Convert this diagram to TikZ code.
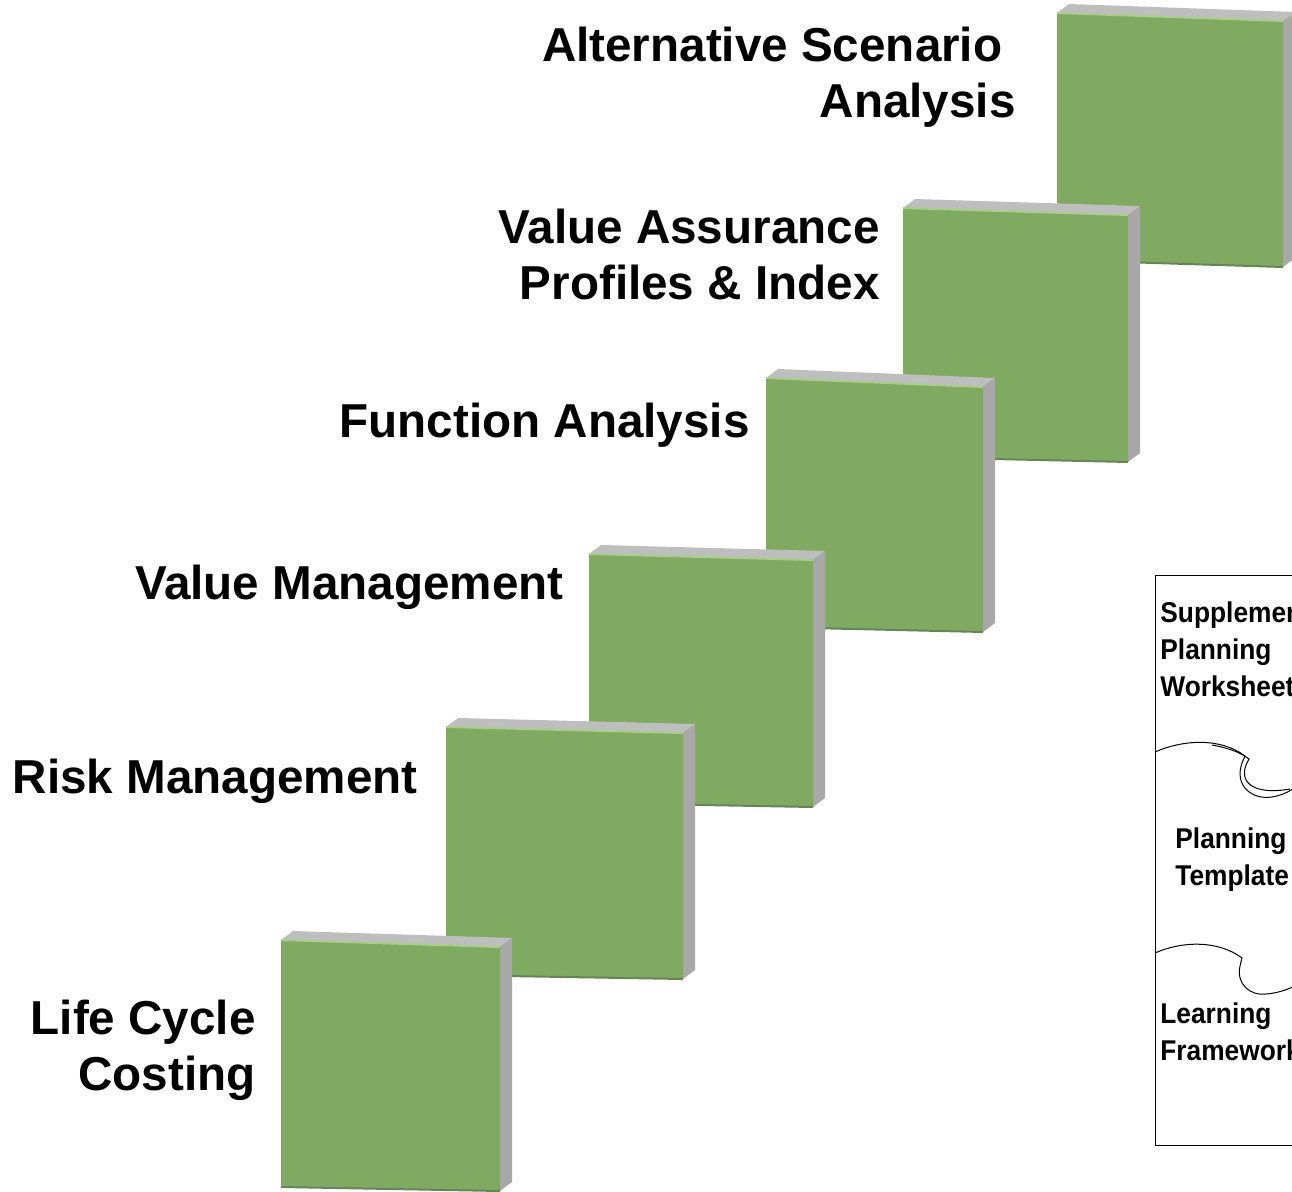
\documentclass[tikz,border=0pt]{standalone}
\usepackage{fontspec}
\setmainfont{Liberation Sans}
\newfontfamily\narrowfont[FakeStretch=0.92]{Liberation Sans}
\usetikzlibrary{calc}
\definecolor{boxgreen}{RGB}{128,170,98}
\definecolor{topgray}{RGB}{190,190,190}
\definecolor{sidegray}{RGB}{168,168,168}
\definecolor{edgelight}{RGB}{170,205,142}
\definecolor{edgedark}{RGB}{102,132,86}

\begin{document}
\begin{tikzpicture}[x=0.5pt,y=-0.5pt,
	frontface/.style={fill=boxgreen},
	topface/.style={fill=topgray},
	sideface/.style={fill=sidegray},
	steplabel/.style={font=\bfseries\fontsize{23.8pt}{28pt}\selectfont,align=right,anchor=base east,inner sep=0pt},
	paneltext/.style={font=\narrowfont\bfseries\fontsize{14.3pt}{18.5pt}\selectfont,align=left,anchor=base west,inner sep=0pt},
	panelline/.style={draw=black,line width=0.5pt}]
\useasboundingbox (0,0) rectangle (1292,1192);
\clip (0,0) rectangle (1292,1192);
		% block 6
		\coordinate (A6) at (1057,13);
		\coordinate (B6) at (1283,21);
		\coordinate (C6) at (1283,267);
		\coordinate (D6) at (1057,260);
		\fill[topface] (A6) -- ++(12,-9) -- ($(B6)+(12,-9)$) -- (B6) -- cycle;
		\fill[sideface] (B6) -- ++(12,-9) -- ($(C6)+(12,-9)$) -- (C6) -- cycle;
		\fill[frontface] (A6) -- (B6) -- (C6) -- (D6) -- cycle;
		\draw[edgelight,line width=1pt] (A6) -- (B6);
		\draw[edgedark,line width=1pt] (D6) -- (C6);
		% block 5
		\coordinate (A5) at (903,208);
		\coordinate (B5) at (1128,215);
		\coordinate (C5) at (1128,462);
		\coordinate (D5) at (903,457);
		\fill[topface] (A5) -- ++(12,-9) -- ($(B5)+(12,-9)$) -- (B5) -- cycle;
		\fill[sideface] (B5) -- ++(12,-9) -- ($(C5)+(12,-9)$) -- (C5) -- cycle;
		\fill[frontface] (A5) -- (B5) -- (C5) -- (D5) -- cycle;
		\draw[edgelight,line width=1pt] (A5) -- (B5);
		\draw[edgedark,line width=1pt] (D5) -- (C5);
		% block 4
		\coordinate (A4) at (766,378);
		\coordinate (B4) at (983,387);
		\coordinate (C4) at (983,632);
		\coordinate (D4) at (766,627);
		\fill[topface] (A4) -- ++(12,-9) -- ($(B4)+(12,-9)$) -- (B4) -- cycle;
		\fill[sideface] (B4) -- ++(12,-9) -- ($(C4)+(12,-9)$) -- (C4) -- cycle;
		\fill[frontface] (A4) -- (B4) -- (C4) -- (D4) -- cycle;
		\draw[edgelight,line width=1pt] (A4) -- (B4);
		\draw[edgedark,line width=1pt] (D4) -- (C4);
		% block 3
		\coordinate (A3) at (589,554);
		\coordinate (B3) at (813,560);
		\coordinate (C3) at (813,807);
		\coordinate (D3) at (589,803);
		\fill[topface] (A3) -- ++(12,-9) -- ($(B3)+(12,-9)$) -- (B3) -- cycle;
		\fill[sideface] (B3) -- ++(12,-9) -- ($(C3)+(12,-9)$) -- (C3) -- cycle;
		\fill[frontface] (A3) -- (B3) -- (C3) -- (D3) -- cycle;
		\draw[edgelight,line width=1pt] (A3) -- (B3);
		\draw[edgedark,line width=1pt] (D3) -- (C3);
		% block 2
		\coordinate (A2) at (446,727);
		\coordinate (B2) at (683,733);
		\coordinate (C2) at (683,979);
		\coordinate (D2) at (446,975);
		\fill[topface] (A2) -- ++(12,-9) -- ($(B2)+(12,-9)$) -- (B2) -- cycle;
		\fill[sideface] (B2) -- ++(12,-9) -- ($(C2)+(12,-9)$) -- (C2) -- cycle;
		\fill[frontface] (A2) -- (B2) -- (C2) -- (D2) -- cycle;
		\draw[edgelight,line width=1pt] (A2) -- (B2);
		\draw[edgedark,line width=1pt] (D2) -- (C2);
		% block 1
		\coordinate (A1) at (281,940);
		\coordinate (B1) at (500,947);
		\coordinate (C1) at (500,1191);
		\coordinate (D1) at (281,1187);
		\fill[topface] (A1) -- ++(12,-9) -- ($(B1)+(12,-9)$) -- (B1) -- cycle;
		\fill[sideface] (B1) -- ++(12,-9) -- ($(C1)+(12,-9)$) -- (C1) -- cycle;
		\fill[frontface] (A1) -- (B1) -- (C1) -- (D1) -- cycle;
		\draw[edgelight,line width=1pt] (A1) -- (B1);
		\draw[edgedark,line width=1pt] (D1) -- (C1);
		% labels (base = last line)
		\node[steplabel] (altscen) at (1016,118) {Alternative Scenario\hspace*{0.278em}\\Analysis};
		\node[steplabel] (vaprofile) at (880,300) {Value Assurance\\Profiles \& Index};
		\node[steplabel] (funcana) at (750,438) {Function Analysis};
		\node[steplabel] (valmgmt) at (564,600) {Value Management};
		\node[steplabel] (riskmgmt) at (418,793) {Risk Management};
		\node[steplabel] (lifecost) at (256,1090) {Life Cycle\\Costing};
		% puzzle panel
		\draw[panelline] (1155,576) rectangle (1340,1145);
		\draw[panelline] (1155,752) .. controls (1182,740) and (1220,737) .. (1245,756) -- (1242,763) .. controls (1234,786) and (1252,800) .. (1272,797) .. controls (1284,795) and (1292,790) .. (1300,784);
		\draw[panelline] (1212,745) .. controls (1228,748) and (1240,752) .. (1249,759) -- (1246,765) .. controls (1239,784) and (1256,795) .. (1290,789);
		\draw[panelline] (1155,953) .. controls (1182,941) and (1218,940) .. (1242,958) -- (1240,966) .. controls (1236,984) and (1250,996) .. (1266,994) .. controls (1280,993) and (1292,988) .. (1300,983);
		\node[paneltext] (suppplan) at (1160,697) {Supplemental\\Planning\\Worksheet};
		\node[paneltext] (plantmpl) at (1175,885) {Planning\\Template};
		\node[paneltext] (learnfw) at (1160,1060) {Learning\\Framework};
\end{tikzpicture}
\end{document}
